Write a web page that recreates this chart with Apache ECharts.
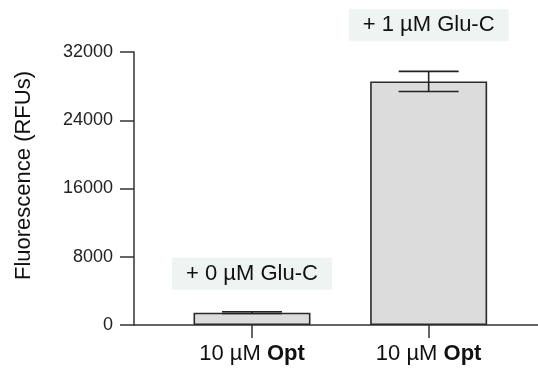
<!DOCTYPE html>
<html>
<head>
<meta charset="utf-8">
<script src="https://cdn.jsdelivr.net/npm/echarts@6/dist/echarts.min.js"></script>
<style>
  html, body { margin: 0; padding: 0; background: #fff; }
  #chart { width: 538px; height: 368px; }
</style>
</head>
<body>
<div id="chart"></div>
<script>
// data
const positions = [1, 2];
const labelText = ['10 µM', '10 µM'];
const labelBold = ['Opt', 'Opt'];
const means = [1450, 28550];
const errors = [110, 1180];
const notes = ['+ 0 µM Glu-C', '+ 1 µM Glu-C'];
const yTicks = [0, 8000, 16000, 24000, 32000];

const FONT = '"Liberation Sans", Arial, Helvetica, sans-serif';
const noteGap = [38, 46]; // px above the error bar top

let chart = echarts.init(document.getElementById('chart'), null, { renderer: 'canvas' });

chart.setOption({
    animation: false,
    backgroundColor: '#fff',
    grid: { left: 134, right: 0, top: 52, bottom: 43 },
    xAxis: {
        type: 'value',
        min: 0.332,
        max: 2.619,
        splitLine: { show: false },
        axisLine: { show: true, lineStyle: { color: '#333', width: 1.5 } },
        axisTick: {
            show: true, inside: false, length: 13, customValues: positions,
            lineStyle: { color: '#333', width: 1.5 }
        },
        axisLabel: {
            customValues: positions,
            margin: 18,
            color: '#111',
            fontFamily: FONT,
            formatter: function (v) {
                let i = positions.indexOf(Math.round(v));
                return '{n|' + labelText[i] + ' }{b|' + labelBold[i] + '}';
            },
            rich: {
                n: { fontSize: 22, fontFamily: FONT, color: '#111' },
                b: { fontSize: 22, fontFamily: FONT, fontWeight: 'bold', color: '#111' }
            }
        }
    },
    yAxis: {
        type: 'value',
        min: yTicks[0],
        max: yTicks[yTicks.length - 1],
        interval: yTicks[1] - yTicks[0],
        splitLine: { show: false },
        axisLine: { show: true, lineStyle: { color: '#333', width: 1.5 } },
        axisTick: { show: true, inside: false, length: 14, lineStyle: { color: '#333', width: 1.5 } },
        axisLabel: {
            margin: 21, fontSize: 18, color: '#222', fontFamily: FONT,
            formatter: v => String(v)
        },
        name: 'Fluorescence (RFUs)',
        nameLocation: 'middle',
        nameGap: 99,
        nameTextStyle: { fontSize: 22, color: '#111', fontFamily: FONT, padding: [0, 0, 0, 26] }
    },
    series: [
        {
            type: 'bar',
            barWidth: 117,
            data: positions.map((p, i) => [p, means[i]]),
            itemStyle: { color: '#dcdcdc', borderColor: '#2a2a2a', borderWidth: 1.6 },
            z: 2
        },
        {
            type: 'custom',
            z: 3,
            clip: false,
            data: positions.map((p, i) => [p, means[i], errors[i]]),
            renderItem: function (params, api) {
                let x = api.value(0), m = api.value(1), e = api.value(2);
                let hi = api.coord([x, m + e]);
                let lo = api.coord([x, m - e]);
                let half = 30;
                let st = { stroke: '#222', lineWidth: 1.6 };
                return {
                    type: 'group',
                    children: [
                        { type: 'line', shape: { x1: hi[0], y1: hi[1], x2: lo[0], y2: lo[1] }, style: st },
                        { type: 'line', shape: { x1: hi[0] - half, y1: hi[1], x2: hi[0] + half, y2: hi[1] }, style: st },
                        { type: 'line', shape: { x1: lo[0] - half, y1: lo[1], x2: lo[0] + half, y2: lo[1] }, style: st },
                        {
                            type: 'text',
                            x: hi[0],
                            y: hi[1] - noteGap[params.dataIndex],
                            style: {
                                text: notes[params.dataIndex],
                                font: '22px ' + FONT,
                                fill: '#111',
                                align: 'center',
                                verticalAlign: 'middle',
                                backgroundColor: '#eef4f1',
                                padding: [5, 14, 5, 14]
                            }
                        }
                    ]
                };
            }
        }
    ]
});
</script>
</body>
</html>
